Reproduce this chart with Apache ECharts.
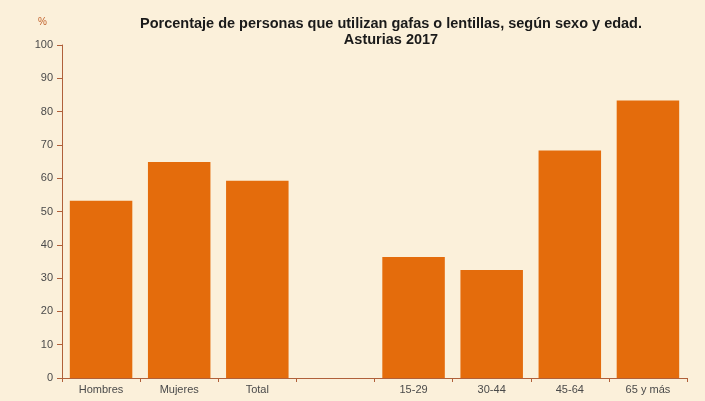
<!DOCTYPE html>
<html>
<head>
<meta charset="utf-8">
<script src="https://cdn.jsdelivr.net/npm/echarts@6/dist/echarts.min.js"></script>
<style>
	html, body { margin: 0; padding: 0; }
	body { background: #fbf0da; }
	#chart { width: 705px; height: 401px; }
</style>
</head>
<body>
<div id="chart"></div>
<script>
var categories = ['Hombres', 'Mujeres', 'Total', '', '15-29', '30-44', '45-64', '65 y más'];
var values = [53.2, 64.9, 59.2, '-', 36.3, 32.4, 68.3, 83.3];
var yTicks = [0, 100, 10];

(function () {
	var chart = echarts.init(document.getElementById('chart'));
	var axisColor = '#b0603a';
	var labelColor = '#4a4a4a';

	var option = {
		backgroundColor: 'transparent',
		animation: false,
		title: {
			text: 'Porcentaje de personas que utilizan gafas o lentillas, según sexo y edad.\nAsturias 2017',
			left: 386,
			top: 11,
			textAlign: 'center',
			textStyle: {
				fontFamily: 'Liberation Sans, Arial',
				fontSize: 14.5,
				fontWeight: 'bold',
				color: '#1a1a1a',
				lineHeight: 16
			}
		},
		grid: {
			left: 62,
			right: 18,
			top: 45,
			bottom: 23,
			containLabel: false
		},
		xAxis: {
			type: 'category',
			data: categories,
			axisLine: { lineStyle: { color: axisColor, width: 1 } },
			axisTick: { show: true, length: 4, lineStyle: { color: axisColor } },
			axisLabel: {
				color: labelColor,
				fontFamily: 'Liberation Sans, Arial',
				fontSize: 11,
				margin: 6
			}
		},
		yAxis: {
			type: 'value',
			name: '%',
			nameLocation: 'end',
			nameGap: 18,
			nameTextStyle: {
				color: '#c0602a',
				fontFamily: 'Liberation Sans, Arial',
				fontSize: 10,
				align: 'right',
				padding: [0, 15, 0, 0]
			},
			min: yTicks[0],
			max: yTicks[1],
			interval: yTicks[2],
			axisLine: { show: true, lineStyle: { color: axisColor, width: 1 } },
			axisTick: { show: true, length: 5, lineStyle: { color: axisColor } },
			splitLine: { show: false },
			axisLabel: {
				color: labelColor,
				fontFamily: 'Liberation Sans, Arial',
				fontSize: 11,
				margin: 9
			}
		},
		series: [
			{
				type: 'bar',
				data: values,
				barCategoryGap: '20%',
				itemStyle: { color: '#e46c0c' }
			}
		]
	};

	chart.setOption(option);
})();
</script>
</body>
</html>
